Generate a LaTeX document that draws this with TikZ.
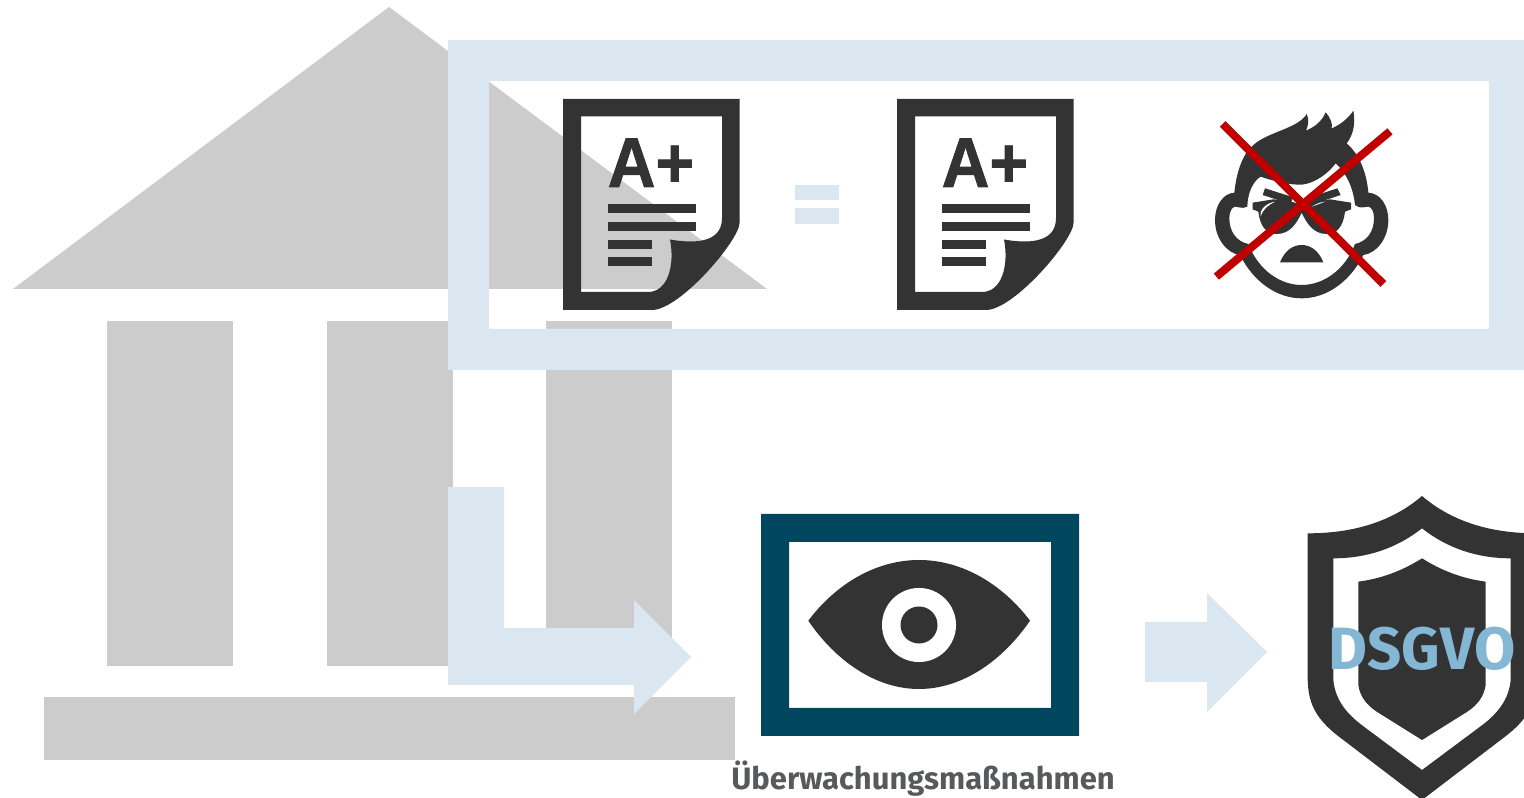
\documentclass[tikz,border=0pt]{standalone}
\usepackage{fontspec}
\setmainfont{Fira Sans}
\newfontfamily\gradefont{Liberation Sans}[BoldFeatures={FakeBold=1.2,FakeStretch=0.94}]
\usetikzlibrary{positioning,calc}
\definecolor{pillargray}{HTML}{CCCCCC}
\definecolor{paleblue}{HTML}{DAE7F0}
\definecolor{icondark}{HTML}{333333}
\definecolor{monitorblue}{HTML}{00465F}
\definecolor{crossred}{HTML}{C00000}
\definecolor{lawblue}{HTML}{84B7D3}
\definecolor{labelgray}{HTML}{58595B}

\begin{document}
\begin{tikzpicture}[
  x=0.01cm,
  y=-0.01cm,
  pillar/.style={fill=pillargray},
  pale/.style={fill=paleblue},
  icon/.style={fill=icondark, even odd rule},
  crossbar/.style={draw=crossred, line width=0.08cm},
  zoomed/.style={x=0.01cm/3, y=-0.01cm/3},
  gradedoc/.pic={
    % Sheet with curled corner, interior left open
    \fill[icon] (563,99) -- (739.5,99) -- (739.5,223)
        .. controls (739.5,240) and (680,310) .. (652,310) -- (563,310) -- cycle
      (581,116.5) -- (581,292) -- (648,292)
        .. controls (668,292) and (675,265) .. (670,239.5)
        .. controls (690,243) and (722,245) .. (722,218) -- (722,116.5) -- cycle;
    \node[font=\gradefont\fontsize{20}{20}\selectfont\bfseries, text=icondark,
      inner sep=0pt, anchor=base west] (grade) at (607,187) {A+};
    \foreach \ytop/\xend in {204.3/695.5,222/695.5,239.6/651.7,257/651.7}
      \fill[icondark] (607.5,\ytop) rectangle (\xend,\ytop+9);
  },
]
  \useasboundingbox (0,0) rectangle (1524,798);
  \clip (0,0) rectangle (1524,798);

  % Building behind everything
  \fill[pillar] (389,7) -- (767,289) -- (13,289) -- cycle;
  \foreach \xl in {107,327,546}
    \fill[pillar] (\xl,321) rectangle (\xl+126,666);
  \fill[pillar] (44,697) rectangle (735,760);

  % Open frame round the top row
  \fill[pale, even odd rule] (448,40) rectangle (1524,370) (489,81) rectangle (1489,329);
  \fill[pale] (795,185) rectangle (839,200);
  \fill[pale] (795,208) rectangle (839,224);

  \pic (docone) at (0,0) {gradedoc};
  \pic (doctwo) at (334,0) {gradedoc};

  % Face with cross, coordinates read from a 3x crop
  \begin{scope}[shift={(1190,90)}, zoomed]
    \fill[icon] (133,308) .. controls (140,240) and (160,190) .. (190,165)
        .. controls (235,125) and (325,115) .. (350,72)
        .. controls (358,90) and (355,105) .. (348,122)
        .. controls (375,110) and (395,95) .. (407,67)
        .. controls (422,85) and (428,100) .. (425,115)
        .. controls (450,105) and (475,85) .. (490,62)
        .. controls (497,100) and (490,135) .. (470,160)
        .. controls (510,195) and (530,250) .. (535,308)
        .. controls (570,310) and (595,345) .. (595,390)
        .. controls (595,445) and (560,490) .. (520,495)
        .. controls (480,575) and (410,625) .. (335,625)
        .. controls (260,625) and (190,575) .. (150,495)
        .. controls (110,490) and (75,445) .. (75,390)
        .. controls (75,345) and (100,310) .. (133,308) -- cycle
      (118,385) .. controls (118,365) and (125,352) .. (135,350)
        .. controls (145,350) and (155,358) .. (172,350)
        .. controls (172,310) and (190,272) .. (212,260)
        .. controls (255,275) and (300,285) .. (335,284)
        .. controls (375,280) and (415,250) .. (437,220)
        .. controls (470,250) and (490,295) .. (495,345)
        .. controls (510,358) and (525,350) .. (535,350)
        .. controls (545,352) and (552,365) .. (552,385)
        .. controls (552,425) and (530,455) .. (495,462)
        .. controls (465,540) and (400,585) .. (335,585)
        .. controls (270,585) and (205,540) .. (175,462)
        .. controls (140,455) and (118,425) .. cycle;
    % Glasses run into the brows
    \fill[icon] (188,338) -- (188,358) -- (205,365)
        .. controls (210,410) and (230,432) .. (260,432)
        .. controls (300,432) and (320,400) .. (335,368)
        .. controls (350,400) and (370,432) .. (410,432)
        .. controls (440,432) and (460,410) .. (465,365)
        -- (483,358) -- (483,338) -- (420,328) -- (365,335) -- (335,345) -- (305,335)
        -- (250,328) -- cycle;
    \fill[icondark] (225,295) -- (218,315) -- (300,342) -- (310,322) -- cycle;
    \fill[icondark] (442,295) -- (452,315) -- (370,342) -- (360,322) -- cycle;
    \fill[white] (212,380) .. controls (208,358) and (228,340) .. (255,335)
        .. controls (235,345) and (218,358) .. cycle;
    \fill[white] (365,350) .. controls (380,341) and (392,336) .. (405,335)
        .. controls (392,340) and (380,345) .. cycle;
    \fill[icondark] (270,517) .. controls (285,480) and (310,465) .. (335,465)
        .. controls (360,465) and (385,480) .. (400,517) -- cycle;
    \draw[crossbar] (98,102) -- (580,582);
    \draw[crossbar] (79,560) -- (600,124);
  \end{scope}

  % Bent arrow over the right pillar
  \fill[pale] (448,487) -- (504,487) -- (504,628) -- (634,628) -- (634,600) -- (691,657)
    -- (634,714) -- (634,685) -- (448,685) -- cycle;

  % Monitor with eye
  \fill[monitorblue, even odd rule] (761,514) rectangle (1079,736) (789,542) rectangle (1051,708);
  \fill[icondark] (808.3,620.7) .. controls (835,585) and (875,560) .. (919,560)
      .. controls (963,560) and (1003,585) .. (1030,620.7)
      .. controls (1003,660) and (963,689) .. (919,689)
      .. controls (875,689) and (835,660) .. cycle;
  \fill[white] (919,625) circle (0.37cm);
  \fill[icondark] (919,625) circle (0.185cm);
  \node[font=\fontsize{8.8}{9}\selectfont\bfseries, text=labelgray, inner sep=0pt,
    anchor=base] (watchlabel) at (923,790) {Überwachungsmaßnahmen};

  \fill[pale] (1145,622) -- (1207,622) -- (1207,593) -- (1267,652) -- (1207,712)
    -- (1207,682) -- (1145,682) -- cycle;

  % Shield, symmetric about x=396 of the crop
  \begin{scope}[shift={(1290,480)}, zoomed]
    \fill[icon] (396,48) .. controls (300,130) and (180,160) .. (53,160) -- (53,600)
        .. controls (55,680) and (85,725) .. (160,780) -- (396,960) -- (632,780)
        .. controls (707,725) and (737,680) .. (739,600) -- (739,160)
        .. controls (612,160) and (492,130) .. cycle
      (396,145) .. controls (320,205) and (230,235) .. (130,235) -- (130,600)
        .. controls (135,655) and (165,697) .. (215,735) -- (396,870) -- (577,735)
        .. controls (627,697) and (657,655) .. (662,600) -- (662,235)
        .. controls (562,235) and (472,205) .. cycle;
    \fill[icondark] (396,235) .. controls (340,270) and (280,295) .. (205,305) -- (205,615)
        .. controls (210,650) and (230,675) .. (260,695) -- (396,780) -- (532,695)
        .. controls (562,675) and (582,650) .. (587,615) -- (587,305)
        .. controls (512,295) and (452,270) .. cycle;
    \node[font=\fontsize{17}{17}\selectfont\bfseries, text=lawblue, inner sep=0pt,
      anchor=base] (lawlabel) at (396,570) {DSGVO};
  \end{scope}
\end{tikzpicture}
\end{document}
